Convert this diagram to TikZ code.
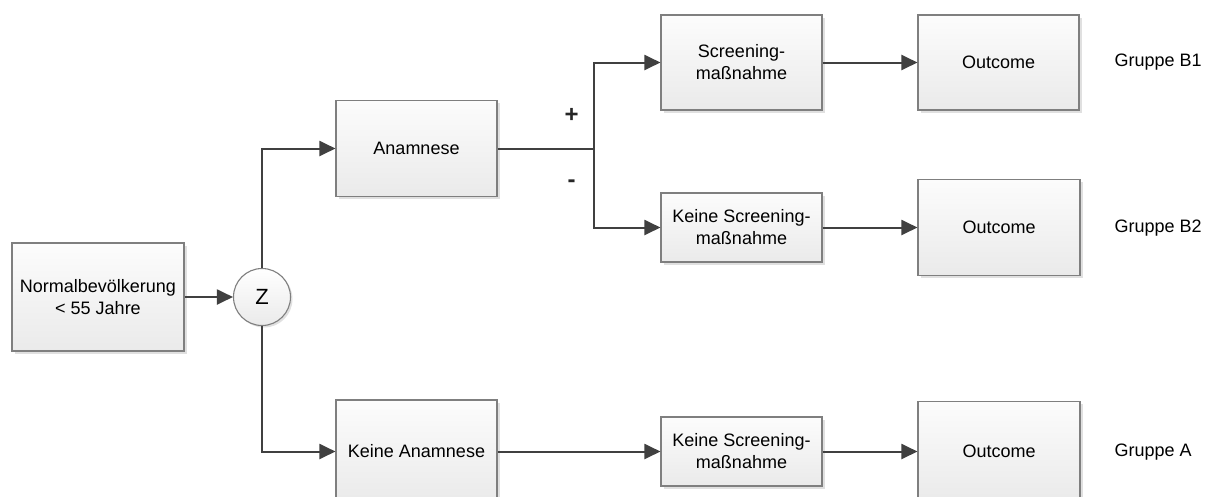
\documentclass[tikz,border=0pt]{standalone}
\usepackage{fontspec}
\setmainfont{Liberation Sans}
\usetikzlibrary{arrows.meta,shadows,calc}

\definecolor{boxline}{HTML}{7F7F7F}
\definecolor{arrowcol}{HTML}{404040}
\definecolor{boxtop}{HTML}{FCFCFC}
\definecolor{boxbottom}{HTML}{EAEAEA}

\tikzset{
  flowbox/.style={draw=boxline, line width=1.1pt, top color=boxtop, bottom color=boxbottom,
    drop shadow={shadow xshift=2.5pt, shadow yshift=-2.5pt, fill=black!12, opacity=1},
    align=center, inner sep=2pt, font=\fontsize{18}{22}\selectfont},
  randnode/.style={circle, draw=boxline, line width=1.1pt, top color=white, bottom color=boxbottom,
    drop shadow={shadow xshift=2pt, shadow yshift=-2pt, fill=black!12, opacity=1},
    minimum size=57pt, inner sep=0pt, font=\fontsize{22}{24}\selectfont},
  conn/.style={draw=arrowcol, line width=2pt},
  arr/.style={conn, -{Triangle[length=16pt,width=15pt]}},
  grouplabel/.style={font=\fontsize{18}{22}\selectfont, anchor=west},
  signlabel/.style={font=\fontsize{24}{26}\bfseries\selectfont, text=black!85}
}

\begin{document}
\begin{tikzpicture}[x=1pt,y=-1pt]
  \useasboundingbox[fill=white] (0,0) rectangle (1209,496);

  % start and randomisation
  \node[flowbox, minimum width=172pt, minimum height=108pt] (normal) at (98,297) {Normalbevölkerung\\< 55 Jahre};
  \node[randnode] (z) at (262,297) {Z};

  % anamnesis branch
  \node[flowbox, minimum width=161pt, minimum height=96pt] (anam) at (416.5,148.5) {Anamnese};
  \node[flowbox, minimum width=161pt, minimum height=95pt] (scr) at (741.5,62.5) {Screening-\\maßnahme};
  \node[flowbox, minimum width=161pt, minimum height=69pt] (noscrB) at (741.5,227.5) {Keine Screening-\\maßnahme};
  \node[flowbox, minimum width=161pt, minimum height=95pt] (outB1) at (998.5,62.5) {Outcome};
  \node[flowbox, minimum width=162pt, minimum height=96pt] (outB2) at (999,227.5) {Outcome};

  % no anamnesis branch
  \node[flowbox, minimum width=161pt, minimum height=103pt] (noanam) at (416.5,451.5) {Keine Anamnese};
  \node[flowbox, minimum width=161pt, minimum height=69pt] (noscrA) at (741.5,451.5) {Keine Screening-\\maßnahme};
  \node[flowbox, minimum width=162pt, minimum height=100pt] (outA) at (999,451.5) {Outcome};

  % group labels
  \node[grouplabel] (gB1) at (1111,62) {Gruppe B1};
  \node[grouplabel] (gB2) at (1111,228) {Gruppe B2};
  \node[grouplabel] (gA) at (1111,452) {Gruppe A};

  % connectors
  \draw[arr] (normal.east) -- (z.west);
  \draw[arr] (z.north) |- (anam.west);
  \draw[arr] (z.south) |- (noanam.west);

  \coordinate (split) at ($(anam.east)+(96,0)$);
  \draw[conn] (anam.east) -- (split);
  \draw[arr] (split) |- (scr.west);
  \draw[arr] (split) |- (noscrB.west);
  \node[signlabel] (plus) at ($(split)+(-22,-33)$) {+};
  \node[signlabel] (minus) at ($(split)+(-22,35)$) {-};

  \draw[arr] (scr.east) -- (outB1.west);
  \draw[arr] (noscrB.east) -- (outB2.west);
  \draw[arr] (noanam.east) -- (noscrA.west);
  \draw[arr] (noscrA.east) -- (outA.west);
\end{tikzpicture}
\end{document}
